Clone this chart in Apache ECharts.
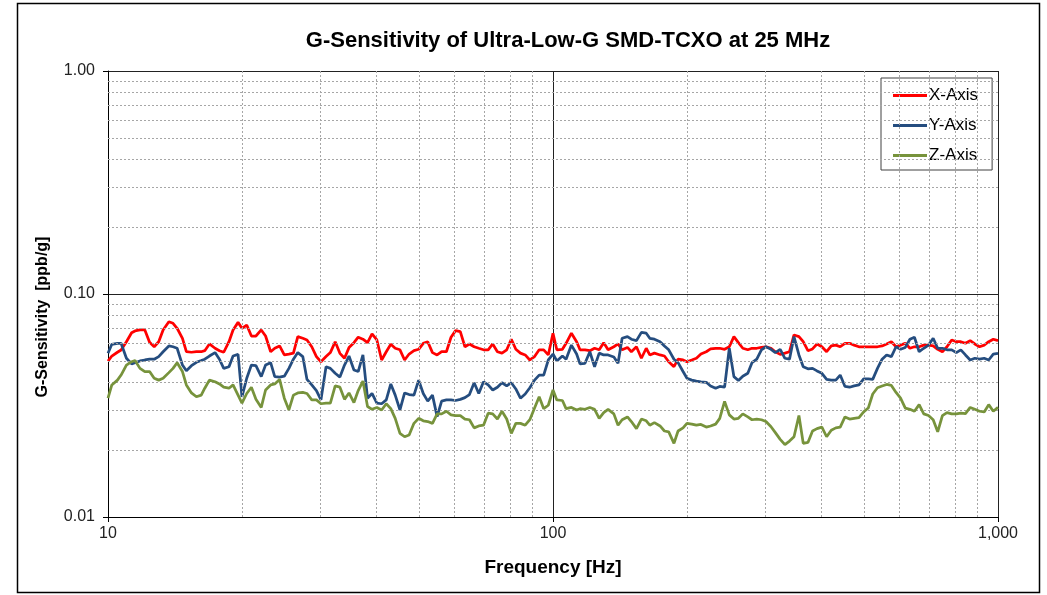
<!DOCTYPE html>
<html>
<head>
<meta charset="utf-8">
<script src="https://cdn.jsdelivr.net/npm/echarts@6/dist/echarts.min.js"></script>
<style>
html,body{margin:0;padding:0;background:#fff;}
#chart{width:1047px;height:595px;}
</style>
</head>
<body>
<div id="chart"></div>
<script>
// Frequencies [Hz] (log-spaced measurement points)
const freq = [
10,10.2,10.5,10.7,11,11.3,11.5,11.8,12.1,12.4,12.7,13,13.3,13.7,14,14.3,14.7,15,15.4,15.8,16.2,16.5,16.9,17.4,17.8,18.2,18.7,19.1,19.6,
20,20.5,21,21.5,22.1,22.6,23.2,23.7,24.3,24.9,25.5,26.1,26.7,27.4,28,28.7,29.4,30.1,30.9,31.6,32.4,33.2,34,34.8,35.7,36.5,37.4,38.3,39.2,
40.2,41.2,42.2,43.2,44.2,45.3,46.4,47.5,48.7,49.9,51.1,52.3,53.6,54.9,56.2,57.6,59,60.4,61.9,63.4,64.9,66.5,68.1,69.8,71.5,73.2,75,76.8,78.7,
80.6,82.5,84.5,86.6,88.7,90.9,93.1,95.3,97.6,
100,102,105,107,110,113,115,118,121,124,127,130,133,137,140,143,147,150,154,158,162,165,169,174,178,182,187,191,196,
200,205,210,215,221,226,232,237,243,249,255,261,267,274,280,287,294,301,309,316,324,332,340,348,357,365,374,383,392,
402,412,422,432,442,453,464,475,487,499,511,523,536,549,562,576,590,604,619,634,649,665,681,698,715,732,750,768,787,
806,825,845,866,887,909,931,953,976,1000
];

// G-Sensitivity [ppb/g]
const xAxisVals = [
0.0500,0.0527,0.0548,0.0561,0.0611,0.0670,0.0683,0.0690,0.0690,0.0607,0.0580,0.0611,0.0690,0.0751,0.0739,0.0702,0.0633,0.0551,0.0548,0.0551,
0.0551,0.0557,0.0597,0.0571,0.0557,0.0548,0.0611,0.0690,0.0746,0.0702,0.0726,0.0648,0.0648,0.0690,0.0648,0.0551,0.0571,0.0585,0.0533,0.0538,
0.0543,0.0644,0.0633,0.0622,0.0580,0.0524,0.0497,0.0524,0.0546,0.0611,0.0542,0.0515,0.0575,0.0605,0.0640,0.0627,0.0605,0.0662,0.0622,0.0506,
0.0551,0.0595,0.0571,0.0562,0.0506,0.0538,0.0557,0.0565,0.0601,0.0611,0.0546,0.0533,0.0551,0.0551,0.0640,0.0685,0.0678,0.0580,0.0597,0.0580,
0.0571,0.0562,0.0562,0.0597,0.0551,0.0543,0.0562,0.0627,0.0565,0.0543,0.0533,0.0506,0.0524,0.0562,0.0562,0.0533,0.0667,0.0562,0.0565,0.0601,
0.0667,0.0611,0.0562,0.0562,0.0557,0.0571,0.0562,0.0605,0.0562,0.0580,0.0597,0.0562,0.0576,0.0551,0.0580,0.0515,0.0571,0.0533,0.0543,0.0533,
0.0527,0.0497,0.0472,0.0510,0.0506,0.0497,0.0506,0.0515,0.0538,0.0551,0.0567,0.0571,0.0571,0.0565,0.0580,0.0644,0.0605,0.0571,0.0562,0.0571,
0.0571,0.0576,0.0580,0.0571,0.0551,0.0536,0.0543,0.0551,0.0655,0.0644,0.0611,0.0557,0.0567,0.0597,0.0580,0.0551,0.0585,0.0590,0.0580,0.0601,
0.0601,0.0590,0.0580,0.0580,0.0580,0.0580,0.0580,0.0585,0.0597,0.0611,0.0580,0.0590,0.0601,0.0571,0.0580,0.0580,0.0590,0.0590,0.0585,0.0565,
0.0551,0.0580,0.0622,0.0611,0.0611,0.0601,0.0618,0.0597,0.0580,0.0590,0.0611,0.0627,0.0618
];
const yAxisVals = [
0.0542,0.0595,0.0601,0.0601,0.0515,0.0486,0.0492,0.0501,0.0506,0.0510,0.0510,0.0524,0.0551,0.0585,0.0580,0.0571,0.0480,0.0453,0.0477,0.0494,
0.0503,0.0510,0.0527,0.0546,0.0510,0.0464,0.0472,0.0527,0.0536,0.0346,0.0419,0.0480,0.0477,0.0426,0.0480,0.0492,0.0426,0.0424,0.0428,0.0464,
0.0510,0.0546,0.0524,0.0414,0.0391,0.0369,0.0335,0.0472,0.0464,0.0441,0.0424,0.0480,0.0527,0.0456,0.0449,0.0533,0.0341,0.0358,0.0324,0.0322,
0.0335,0.0395,0.0352,0.0302,0.0360,0.0354,0.0352,0.0411,0.0358,0.0331,0.0352,0.0282,0.0331,0.0335,0.0335,0.0333,0.0337,0.0343,0.0354,0.0400,
0.0358,0.0404,0.0391,0.0371,0.0382,0.0400,0.0387,0.0400,0.0375,0.0341,0.0356,0.0380,0.0411,0.0433,0.0433,0.0506,0.0538,0.0501,0.0527,0.0510,
0.0590,0.0538,0.0486,0.0489,0.0551,0.0472,0.0543,0.0533,0.0533,0.0522,0.0489,0.0633,0.0644,0.0627,0.0618,0.0673,0.0667,0.0633,0.0627,0.0611,
0.0585,0.0562,0.0510,0.0492,0.0449,0.0419,0.0411,0.0407,0.0404,0.0402,0.0387,0.0378,0.0385,0.0382,0.0571,0.0426,0.0409,0.0428,0.0441,0.0492,
0.0510,0.0562,0.0580,0.0565,0.0546,0.0565,0.0515,0.0510,0.0644,0.0533,0.0472,0.0462,0.0464,0.0452,0.0441,0.0414,0.0411,0.0411,0.0433,0.0385,
0.0382,0.0387,0.0391,0.0416,0.0416,0.0414,0.0464,0.0510,0.0533,0.0524,0.0580,0.0565,0.0576,0.0627,0.0640,0.0551,0.0571,0.0590,0.0633,0.0571,
0.0571,0.0562,0.0562,0.0546,0.0562,0.0533,0.0506,0.0515,0.0510,0.0515,0.0506,0.0538,0.0542
];
const zAxisVals = [
0.0341,0.0391,0.0411,0.0433,0.0480,0.0497,0.0503,0.0464,0.0449,0.0449,0.0419,0.0411,0.0419,0.0444,0.0464,0.0492,0.0449,0.0391,0.0360,0.0346,
0.0352,0.0378,0.0411,0.0404,0.0395,0.0382,0.0378,0.0391,0.0352,0.0324,0.0358,0.0382,0.0337,0.0310,0.0371,0.0391,0.0395,0.0414,0.0341,0.0302,
0.0352,0.0360,0.0362,0.0358,0.0335,0.0335,0.0322,0.0324,0.0324,0.0387,0.0382,0.0337,0.0360,0.0326,0.0369,0.0407,0.0313,0.0304,0.0310,0.0302,
0.0322,0.0306,0.0277,0.0237,0.0229,0.0233,0.0263,0.0277,0.0270,0.0268,0.0263,0.0290,0.0290,0.0298,0.0287,0.0285,0.0285,0.0275,0.0273,0.0251,
0.0256,0.0258,0.0292,0.0290,0.0275,0.0298,0.0275,0.0237,0.0263,0.0263,0.0258,0.0273,0.0308,0.0346,0.0306,0.0317,0.0371,0.0335,0.0333,0.0306,
0.0310,0.0302,0.0306,0.0304,0.0310,0.0304,0.0277,0.0294,0.0304,0.0290,0.0258,0.0273,0.0281,0.0268,0.0249,0.0275,0.0270,0.0258,0.0265,0.0256,
0.0243,0.0241,0.0214,0.0243,0.0251,0.0263,0.0261,0.0258,0.0260,0.0253,0.0256,0.0261,0.0277,0.0330,0.0287,0.0275,0.0277,0.0290,0.0281,0.0273,
0.0275,0.0273,0.0268,0.0254,0.0239,0.0223,0.0211,0.0219,0.0229,0.0285,0.0214,0.0216,0.0243,0.0249,0.0253,0.0229,0.0245,0.0251,0.0253,0.0281,
0.0275,0.0277,0.0279,0.0296,0.0308,0.0356,0.0380,0.0387,0.0393,0.0389,0.0362,0.0341,0.0308,0.0304,0.0298,0.0319,0.0290,0.0285,0.0273,0.0241,
0.0285,0.0294,0.0290,0.0290,0.0292,0.0291,0.0310,0.0304,0.0298,0.0296,0.0319,0.0298,0.0310
];

const seriesNames = ['X-Axis', 'Y-Axis', 'Z-Axis'];
const seriesColors = ['#FF0000', '#254D7F', '#77933C'];

// Minor gridline positions (axis values)
const minorX = [20,30,40,50,60,70,80,90,200,300,400,500,600,700,800,900];
const minorY = [0.02,0.03,0.04,0.05,0.06,0.07,0.08,0.09,0.2,0.3,0.4,0.5,0.6,0.7,0.8,0.9];

const FONT = '"Liberation Sans", Arial, sans-serif';
const chart = echarts.init(document.getElementById('chart'), null, {renderer: 'canvas'});

function pairs(vals) { return freq.map((f, i) => [f, vals[i]]); }

const option = {
  animation: false,
  backgroundColor: '#ffffff',
  title: {
    text: 'G-Sensitivity of Ultra-Low-G SMD-TCXO at 25 MHz',
    left: 563, top: 25, textAlign: 'center',
    textStyle: {fontFamily: FONT, fontSize: 22, fontWeight: 'bold', color: '#000'}
  },
  legend: {
    orient: 'vertical',
    left: 881, top: 78,
    data: seriesNames,
    icon: 'rect',
    itemWidth: 34, itemHeight: 3,
    itemGap: 13,
    padding: [9, 14, 6, 12],
    borderColor: '#404040', borderWidth: 1,
    backgroundColor: '#fff',
    textStyle: {fontFamily: FONT, fontSize: 17, color: '#000', lineHeight: 16, padding: [0, 0, 0, -3]}
  },
  grid: {left: 108, top: 71, right: 49, bottom: 78, containLabel: false},
  xAxis: {
    type: 'log', logBase: 10, min: 10, max: 1000,
    name: 'Frequency [Hz]', nameLocation: 'middle', nameGap: 41,
    nameTextStyle: {fontFamily: FONT, fontSize: 19, fontWeight: 'bold', color: '#000'},
    axisLine: {show: true, onZero: false, lineStyle: {color: '#000', width: 1}},
    axisTick: {show: true, length: 5, inside: false, lineStyle: {color: '#000'}},
    axisLabel: {fontFamily: FONT, fontSize: 16, color: '#222', margin: 9,
      formatter: v => Math.round(v).toLocaleString('en-US')},
    splitLine: {show: true, lineStyle: {color: '#222', width: 1}}
  },
  yAxis: {
    type: 'log', logBase: 10, min: 0.01, max: 1,
    name: 'G-Sensitivity  [ppb/g]', nameLocation: 'middle', nameGap: 57,
    nameTextStyle: {fontFamily: FONT, fontSize: 16, fontWeight: 'bold', color: '#000', padding: [0, 46, 0, 0]},
    axisLine: {show: true, onZero: false, lineStyle: {color: '#000', width: 1}},
    axisTick: {show: true, length: 5, inside: false, lineStyle: {color: '#000'}},
    axisLabel: {fontFamily: FONT, fontSize: 16, color: '#222', margin: 13,
      formatter: v => v.toFixed(2)},
    splitLine: {show: true, lineStyle: {color: '#222', width: 1}}
  },
  graphic: [{
    type: 'rect', silent: true, z: -10,
    shape: {x: 17.5, y: 3.5, width: 1022, height: 589},
    style: {fill: null, stroke: '#000', lineWidth: 1.5}
  }],
  series: [
    {
      name: 'minor-grid', type: 'line', data: [], silent: true, z: 1,
      markLine: {
        silent: true, symbol: ['none', 'none'], animation: false,
        label: {show: false},
        lineStyle: {type: [2, 2], color: '#a6a6a6', width: 1},
        emphasis: {disabled: true},
        data: minorX.map(v => ({xAxis: v})).concat(minorY.map(v => ({yAxis: v})))
      }
    },
    {name: seriesNames[0], type: 'line', data: pairs(xAxisVals), showSymbol: false, z: 3,
     lineStyle: {color: seriesColors[0], width: 2.75}, itemStyle: {color: seriesColors[0]}},
    {name: seriesNames[1], type: 'line', data: pairs(yAxisVals), showSymbol: false, z: 4,
     lineStyle: {color: seriesColors[1], width: 2.75}, itemStyle: {color: seriesColors[1]}},
    {name: seriesNames[2], type: 'line', data: pairs(zAxisVals), showSymbol: false, z: 5,
     lineStyle: {color: seriesColors[2], width: 2.75}, itemStyle: {color: seriesColors[2]}}
  ]
};
chart.setOption(option);
</script>
</body>
</html>
